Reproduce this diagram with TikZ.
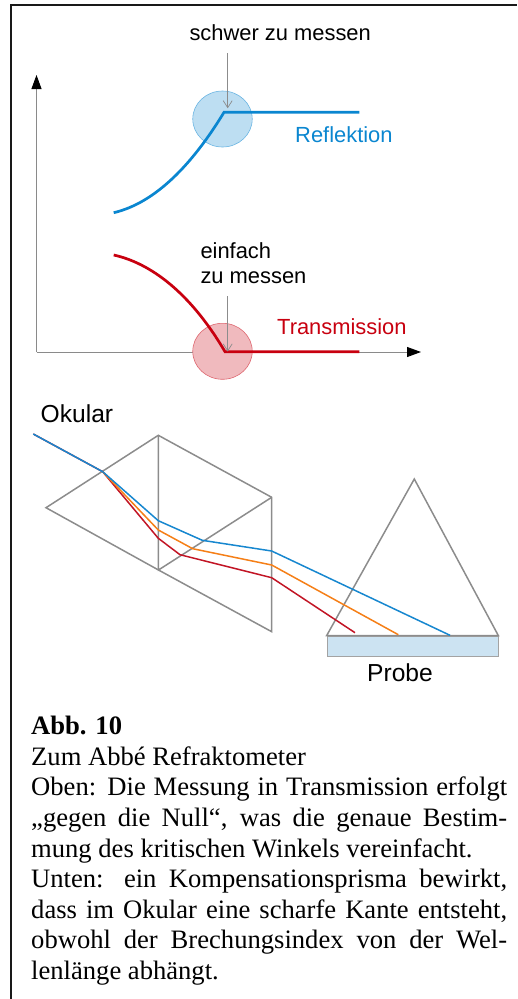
\documentclass[tikz,border=0pt]{standalone}
\usepackage{fontspec}
\setmainfont{Liberation Serif}
\setsansfont{Liberation Sans}
\usetikzlibrary{
  arrows.meta,
  shapes.geometric,
  calc,
}
\definecolor{cRefl}   {HTML}{0A86D0}
\definecolor{cTrans}  {HTML}{C8000F}
\definecolor{cOrange} {HTML}{F57F17}
\definecolor{cRuby}   {HTML}{C21525}
\definecolor{cBlue}   {HTML}{1787CF}
\definecolor{cPrism}  {HTML}{8C8C8C}
\definecolor{cProbe}  {HTML}{CCE3F2}
\definecolor{cAxis}   {HTML}{8A8A8A}

\begin{document}
\begin{tikzpicture}[
  x=1pt, y=-1pt,
  font=\sffamily,
  axisline/.style={draw=cAxis, line width=0.9pt, -{Triangle[length=14pt, width=10pt, black]}},
  hintline/.style={draw=black!45, line width=0.7pt, -{Straight Barb[length=7pt, width=9pt]}},
  spot/.style={ellipse, draw=#1!60, fill=#1!27, line width=0.6pt, inner sep=0pt,
               minimum width=59.5pt, minimum height=56pt},
  curveline/.style={draw=#1, line width=2.7pt, line join=miter},
  prismline/.style={draw=cPrism, line width=1.5pt},
  ray/.style={draw=#1, line width=1.5pt, line join=round},
  lbl/.style={font=\fontsize{21.9}{24}\selectfont\sffamily, inner sep=0pt, anchor=base west},
  biglbl/.style={lbl, font=\fontsize{24.6}{26}\selectfont\sffamily},
  caption/.style={font=\fontsize{26.6}{30.6}\selectfont\rmfamily, inner sep=0pt, anchor=north west,
                  text width=476pt, align=justify},
]
\useasboundingbox (0,0) rectangle (517,999);

% ────────────── FRAME (open to the right and bottom) ───────────────────────
\coordinate (frame_b) at (11,999);
\coordinate (frame_c) at (11,5);
\coordinate (frame_r) at (517,5);
\draw[line width=2pt, draw=black!90] (frame_b) -- (frame_c) -- (frame_r);

% ────────────── UPPER GRAPH — axes and spots ───────────────────────────────
\coordinate (orig) at (36.5,352);
\coordinate (ytip) at (36.5,75);
\coordinate (xtip) at (421,352);
\draw[axisline] (orig) -- (ytip);
\draw[axisline] (orig) -- (xtip);

\node[spot=cRefl]  (spot_r) at (222.5,119) {};
\node[spot=cTrans] (spot_t) at (222.5,351.3) {};

% ────────────── UPPER GRAPH — curves ───────────────────────────────────────
\coordinate (r_start) at (113.7,212.7);
\coordinate (r_knee)  at (224,112.3);
\coordinate (r_end)   at (359.3,112.3);
\draw[curveline=cRefl] (r_start) .. controls (155,203) and (192,165) .. (r_knee) -- (r_end);

\coordinate (t_start) at (113.7,255);
\coordinate (t_knee)  at (225,351.7);
\coordinate (t_end)   at (359.3,351.7);
\draw[curveline=cTrans] (t_start) .. controls (150,263) and (190,292) .. (t_knee) -- (t_end);

% ────────────── UPPER GRAPH — labels ───────────────────────────────────────
\node[lbl, text=black]  (hard)  at (189.3,40)   {schwer zu messen};
\node[lbl, text=cRefl]  (refl)  at (295,142.7)  {Reflektion};
\node[lbl, text=black]  (easy1) at (200.3,258)  {einfach};
\node[lbl, text=black]  (easy2) at (200.3,283.3){zu messen};
\node[lbl, text=cTrans] (trans) at (277,334.3)  {Transmission};

\coordinate (hard_s) at (227.7,53.3);
\coordinate (hard_e) at (227.7,108.3);
\coordinate (easy_s) at (227.7,296);
\coordinate (easy_e) at (227.7,351.5);
\draw[hintline] (hard_s) -- (hard_e);
\draw[hintline] (easy_s) -- (easy_e);

% ────────────── COMPENSATION PRISM ─────────────────────────────────────────
\coordinate (p_left)  at (46,507.7);
\coordinate (p_top)   at (158.3,435.3);
\coordinate (p_right) at (271.7,497.3);
\coordinate (p_low)   at (271.7,631.7);
\coordinate (p_mid)   at (158.5,570);
\draw[prismline] (p_left) -- (p_top) -- (p_right) -- (p_low) -- (p_mid) -- cycle;
\draw[prismline] (p_top) -- (p_mid) -- (p_right);

% ────────────── MEASURING PRISM + SAMPLE ───────────────────────────────────
\node[draw=cPrism!80, fill=cProbe, line width=0.9pt, inner sep=0pt, anchor=north west,
      minimum width=171.3pt, minimum height=20pt] (probe) at (327,635.7) {};
\coordinate (t_left)  at (326.7,635.5);
\coordinate (t_apex)  at (414.3,479);
\coordinate (t_right) at (498.3,635.5);
\draw[prismline] (t_left) -- (t_apex) -- (t_right) -- cycle;

% ────────────── RAYS ───────────────────────────────────────────────────────
\coordinate (eye)   at (33.3,434);
\coordinate (entry) at (102.7,471.7);
\draw[ray=cRuby]   (eye) -- (entry) -- (158.3,538.3) -- (180,554.7) -- (271.7,577.7) -- (355,632.7);
\draw[ray=cOrange] (entry) -- (158.3,530) -- (192.7,548.7) -- (271.7,565) -- (398.3,634.7);
\draw[ray=cBlue]   (eye) -- (entry) -- (158.3,520.7) -- (202.3,540.3) -- (271.7,551) -- (450,635.3);

\node[biglbl, text=black] (okular) at (40.5,422.3) {Okular};
\node[biglbl, text=black] (probe_lbl) at (367,681) {Probe};

% ────────────── CAPTION ────────────────────────────────────────────────────
\node[caption] (cap) at (31,716) {%
  \textbf{Abb. 10}\par
  Zum Abbé Refraktometer\par
  Oben: Die Messung in Transmission erfolgt\linebreak
  „gegen die Null“, was die genaue Bestim-\linebreak
  mung des kritischen Winkels vereinfacht.\par
  Unten: ein Kompensationsprisma bewirkt,\linebreak
  dass im Okular eine scharfe Kante entsteht,\linebreak
  obwohl der Brechungsindex von der Wel-\linebreak
  lenlänge abhängt.};

\end{tikzpicture}
\end{document}
